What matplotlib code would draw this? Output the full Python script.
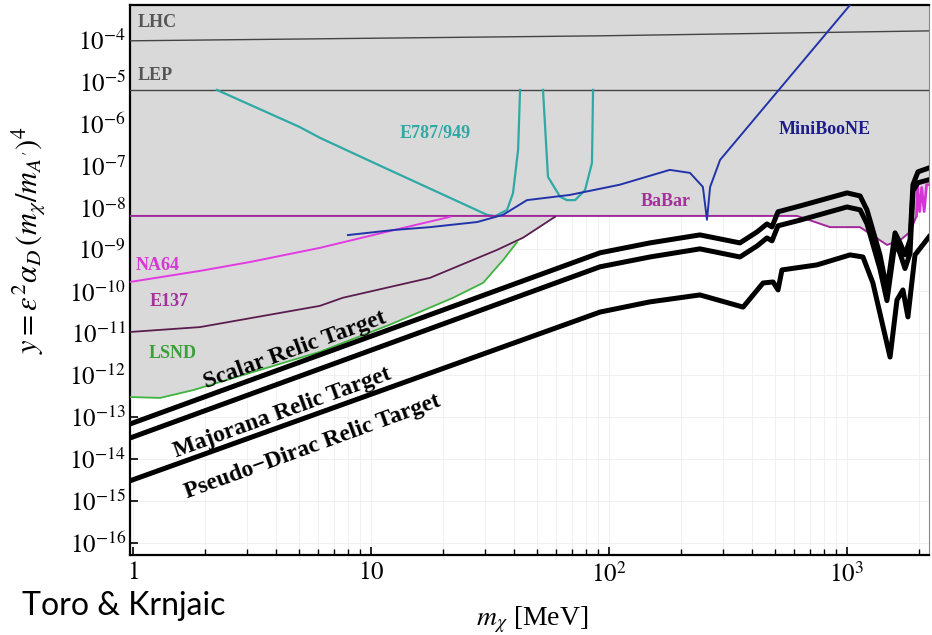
import numpy as np
import matplotlib
matplotlib.use("Agg")
import matplotlib.pyplot as plt
from matplotlib.ticker import FixedLocator, NullLocator, LogLocator, NullFormatter

plt.rcParams['font.family'] = ['Liberation Serif', 'DejaVu Serif']
plt.rcParams['mathtext.fontset'] = 'stix'

# ---- data (x in MeV, y dimensionless) ----
lhc_x = [0.97, 91.7, 2211]
lhc_y = [9.5e-5, 1.25e-4, 1.64e-4]
lep_x = [0.97, 2211]
lep_y = [6.4e-6, 6.4e-6]

e787_x1 = [2.25, 5.0, 6.1, 11.2, 30.7, 33.2, 37.3, 39.5, 41.5, 42.3]
e787_y1 = [6.4e-6, 8.4e-7, 4.6e-7, 9.3e-8, 6.7e-9, 6.2e-9, 8.8e-9, 2.2e-8, 2.4e-7, 6.4e-6]
e787_x2 = [52.8, 55.4, 62.3, 66.6, 72.0, 79.3, 84.8, 85.7]
e787_y2 = [6.4e-6, 5.4e-8, 1.8e-8, 1.5e-8, 1.5e-8, 2.6e-8, 1.16e-7, 6.4e-6]

mb_x = [8.0, 12.4, 17.7, 27.9, 35.9, 45.2, 68.6, 111, 180, 219, 248, 258, 266, 293, 1030, 1100]
mb_y = [2.2e-9, 2.9e-9, 3.4e-9, 4.5e-9, 6.7e-9, 1.5e-8, 2.0e-8, 3.5e-8, 7.9e-8, 6.7e-8,
        3.1e-8, 5.1e-9, 3.1e-8, 1.37e-7, 6.8e-4, 1.07e-3]

babar_x = [0.97, 617, 849, 1134, 1473, 1670, 1840, 1960]
babar_y = [6.3e-9, 6.3e-9, 3.4e-9, 3.4e-9, 1.28e-9, 1.65e-9, 2.6e-9, 6.3e-9]
babar_w_x = [1960, 1975, 2020, 2060, 2110, 2160, 2211]
babar_w_y = [6.3e-9, 3.5e-8, 8e-9, 3e-8, 8e-9, 3.5e-8, 3.5e-8]

na64_x = [0.97, 1.91, 3.1, 6.1, 11.2, 21.5]
na64_y = [1.67e-10, 3.07e-10, 5.0e-10, 1.09e-9, 2.5e-9, 6.0e-9]

e137_x = [0.97, 1.91, 6.1, 7.6, 17.7, 33.8, 43.5, 59.3]
e137_y = [1.07e-11, 1.4e-11, 4.5e-11, 7.0e-11, 2.1e-10, 9.7e-10, 1.9e-9, 6.0e-9]

lsnd_x = [0.97, 1.3, 1.79, 6.1, 12.0, 22.1, 29.6, 35.9, 41.1]
lsnd_y = [3.0e-13, 2.86e-13, 4.4e-13, 3.6e-12, 1.6e-11, 7.0e-11, 1.6e-10, 5.6e-10, 1.5e-9]

scalar_x = [0.97, 91.7, 148.6, 241, 355, 419, 461, 484, 513, 635, 1000, 1135, 1213,
            1376, 1472, 1592, 1671, 1753, 1840, 1893, 1987, 2211]
scalar_y = [6.8e-14, 8.3e-10, 1.43e-9, 2.22e-9, 1.43e-9, 2.62e-9, 4.06e-9, 3.44e-9, 7.9e-9,
            1.09e-8, 2.23e-8, 1.89e-8, 8.8e-9, 7.4e-10, 1.08e-10, 2.48e-9, 1.43e-9, 7.4e-10,
            1.69e-9, 3.5e-8, 7.1e-8, 8.8e-8]

majorana_x = scalar_x
majorana_y = [3.15e-14, 3.85e-10, 6.6e-10, 1.03e-9, 6.6e-10, 1.21e-9, 1.88e-9, 1.6e-9, 3.66e-9,
              5.0e-9, 1.03e-8, 8.8e-9, 4.1e-9, 3.4e-10, 6e-11, 1.5e-9, 8e-10, 3.5e-10,
              8e-10, 2.5e-8, 3.9e-8, 4.6e-8]

dirac_x = [0.97, 91.7, 148.6, 241, 366, 444, 489, 513, 533, 748, 1030, 1167, 1285,
           1517, 1622, 1718, 1803, 1931, 2211]
dirac_y = [3.0e-15, 3.2e-11, 5.6e-11, 8.2e-11, 4.2e-11, 1.58e-10, 1.67e-10, 1.08e-10, 3.24e-10,
           4.27e-10, 7.4e-10, 6.6e-10, 1.58e-10, 2.7e-12, 6.2e-11, 1.08e-10, 2.45e-11, 7.4e-10, 1.99e-9]

xmin, xmax = 0.971, 2211
ymin, ymax = 5.1e-17, 6.8e-4

fig = plt.figure(figsize=(9.32, 6.35), dpi=100)
ax = fig.add_axes([130 / 932, 1 - 555 / 635, 799 / 932, 550 / 635])
ax.set_xscale('log')
ax.set_yscale('log')
ax.set_xlim(xmin, xmax)
ax.set_ylim(ymin, ymax)

# faint background grid
ax.set_axisbelow(True)
ax.grid(True, which='both', color='#eeeeee', lw=0.6)

# gray excluded region: above the lowest of LSND / E137 / BaBar
xg = np.logspace(np.log10(xmin), np.log10(xmax), 2000)
def logi(xs, ys):
    return np.interp(np.log10(xg), np.log10(xs), np.log10(ys), left=np.inf, right=np.inf)
env = np.min(np.vstack([logi(lsnd_x, lsnd_y), logi(e137_x, e137_y),
                        logi(babar_x + babar_w_x[1:], babar_y + babar_w_y[1:])]), axis=0)
ax.fill_between(xg, 10 ** env, ymax * 2, color='#d9d9d9', lw=0, zorder=1)

ax.plot(lhc_x, lhc_y, color='#444444', lw=1.0, zorder=3)
ax.plot(lep_x, lep_y, color='#444444', lw=1.0, zorder=3)
ax.plot(e787_x1, e787_y1, color='#2fa9a5', lw=1.6, zorder=3)
ax.plot(e787_x2, e787_y2, color='#2fa9a5', lw=1.6, zorder=3)
ax.plot(babar_x, babar_y, color='#a0289a', lw=1.4, zorder=3)
ax.plot(babar_w_x, babar_w_y, color='#d635d6', lw=2.0, zorder=3)
ax.plot(na64_x, na64_y, color='#e23be2', lw=1.4, zorder=3)
ax.plot(e137_x, e137_y, color='#5b1d4f', lw=1.3, zorder=3)
ax.plot(lsnd_x, lsnd_y, color='#40b440', lw=1.3, zorder=3)
ax.plot(mb_x, mb_y, color='#2233aa', lw=1.4, zorder=3)

for xs, ys in [(scalar_x, scalar_y), (majorana_x, majorana_y), (dirac_x, dirac_y)]:
    ax.plot(xs, ys, color='black', lw=3.6, solid_joinstyle='round', zorder=4)

lab = dict(transform=ax.transAxes, fontweight='bold', fontsize=13, va='center')
ax.text(0.009, 0.969, 'LHC', color='#555555', ha='left', **lab)
ax.text(0.009, 0.871, 'LEP', color='#555555', ha='left', **lab)
ax.text(0.382, 0.767, 'E787/949', color='#2fa9a5', ha='center', **lab)
ax.text(0.870, 0.773, 'MiniBooNE', color='#1c1c8c', ha='center', **lab)
ax.text(0.671, 0.642, 'BaBar', color='#a4309a', ha='center', **lab)
ax.text(0.035, 0.527, 'NA64', color='#d637d6', ha='center', **lab)
ax.text(0.049, 0.460, 'E137', color='#a4309a', ha='center', **lab)
ax.text(0.053, 0.367, 'LSND', color='#3a9e3a', ha='center', **lab)

rel = dict(transform=ax.transAxes, fontweight='bold', fontsize=17, color='black',
           ha='center', va='center', rotation=20, rotation_mode='anchor')
ax.text(0.2065, 0.372, 'Scalar Relic Target', **rel)
ax.text(0.191, 0.258, 'Majorana Relic Target', **rel)
ax.text(0.228, 0.197, 'Pseudo\u2212Dirac Relic Target', **rel)

# ticks
ax.xaxis.set_major_locator(FixedLocator([1, 10, 100, 1000]))
ax.set_xticklabels(['$1$', '$10$', '$10^2$', '$10^3$'])
ax.xaxis.set_minor_locator(LogLocator(base=10, subs=np.arange(2, 10)))
ax.xaxis.set_minor_formatter(NullFormatter())
yt = [10.0 ** k for k in range(-16, -3)]
ax.yaxis.set_major_locator(FixedLocator(yt))
ax.set_yticklabels(['$10^{%d}$' % k for k in range(-16, -3)])
ax.yaxis.set_minor_locator(NullLocator())
ax.tick_params(which='major', direction='in', length=6, width=1.2, labelsize=18,
               top=False, right=False)
ax.tick_params(axis='x', which='major', pad=5)
ax.tick_params(axis='y', which='major', pad=3)
ax.tick_params(which='minor', direction='in', length=4, width=1.0, top=False, right=False)
for s in ax.spines.values():
    s.set_linewidth(1.6)
ax.spines['right'].set_color('#888888')
ax.spines['right'].set_linewidth(0.8)

ax.set_ylabel(r"$y = \epsilon^2 \alpha_D\,(m_\chi/m_{A'})^4$", fontsize=22)
ax.yaxis.set_label_coords(-0.103, 0.573)
ax.set_xlabel(r"$m_\chi$ [MeV]", fontsize=20)
ax.xaxis.set_label_coords(0.503, -0.091)

fig.text(22 / 932, 1 - 615 / 635, 'Toro & Krnjaic', fontsize=23, family='Lato',
         ha='left', va='baseline', color='black')

fig.savefig('out.png', dpi=100)
